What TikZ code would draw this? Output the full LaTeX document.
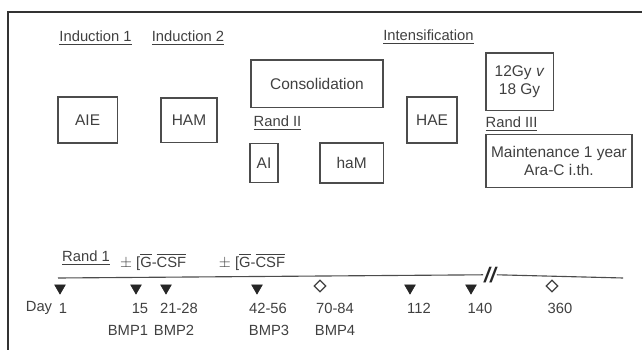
\documentclass[tikz,border=0pt]{standalone}
\usepackage{fontspec}
\setmainfont{Liberation Sans}
\usepackage{amsmath,amssymb}
\usetikzlibrary{shapes.geometric, positioning, calc}

\tikzset{
  phasebox/.style={rectangle, draw=black!70, thick, font=\fontsize{11}{12.5}\selectfont, text=black!75, align=center, inner sep=0pt},
  phaselabel/.style={font=\fontsize{10.5}{12}\selectfont, text=black!75, inner sep=1pt},
  daylabel/.style={font=\fontsize{10.5}{12}\selectfont, text=black!75, inner sep=1pt},
  tri/.style={isosceles triangle, isosceles triangle apex angle=60, shape border rotate=-90, fill=black!85, draw=black!85, minimum size=6.5pt, inner sep=0pt},
  dia/.style={diamond, draw=black!75, thick, minimum size=8.5pt, inner sep=0pt}
}

\begin{document}
\begin{tikzpicture}
      \useasboundingbox (0,0) rectangle (16.05,8.75);
      % Frame
      \draw[black!80, thick] (16.05,8.45) -- (0.2,8.45) -- (0.2,0);

      % Phase labels
      \node[phaselabel] (ind1) at (2.39,7.8) {\underline{Induction 1}};
      \node[phaselabel] (ind2) at (4.7,7.8) {\underline{Induction 2}};
      \node[phaselabel] (intens) at (10.71,7.825) {\underline{Intensification}};
      \node[phaselabel, anchor=west] (rand2) at (6.3,5.67) {\underline{Rand II}};
      \node[phaselabel, anchor=west] (rand3) at (12.1,5.65) {\underline{Rand III}};

      % Treatment boxes
      \node[phasebox, minimum width=3.3cm, minimum height=1.18cm] (consol) at (7.925,6.66) {Consolidation};
      \node[phasebox, minimum width=1.48cm, minimum height=1.15cm] (aie) at (2.19,5.75) {AIE};
      \node[phasebox, minimum width=1.4cm, minimum height=1.12cm] (ham) at (4.725,5.74) {HAM};
      \node[phasebox, minimum width=0.7cm, minimum height=0.98cm] (ai) at (6.6,4.68) {AI};
      \node[phasebox, minimum width=1.58cm, minimum height=1.0cm] (haM) at (8.79,4.675) {haM};
      \node[phasebox, minimum width=1.25cm, minimum height=1.15cm] (hae) at (10.8,5.75) {HAE};
      \node[phasebox, minimum width=1.68cm, minimum height=1.43cm] (gy) at (12.99,6.71) {12Gy \textit{v}\\18 Gy};
      \node[phasebox, minimum width=3.65cm, minimum height=1.32cm] (maint) at (13.975,4.725) {Maintenance 1 year\\Ara-C i.th.};

      % Time line
      \coordinate (tstart) at (1.45,1.8);
      \coordinate (tend) at (15.58,1.8);
      \node[font=\bfseries\itshape\fontsize{15}{15}\selectfont, text=black!85, inner sep=0.5pt] (brk) at (12.25,1.88) {//};
      \draw[black!70, thick] (tstart) -- (brk.west);
      \draw[black!70, thick] (brk.east) -- (tend);

      % Randomisation and G-CSF
      \node[phaselabel] (rand1) at (2.15,2.3) {\underline{Rand 1}};
      \node[phaselabel] (gcsf1) at (3.83,2.2) {$\pm$ [$\overline{\text{G}}$-$\overline{\text{CSF}}$};
      \node[phaselabel] (gcsf2) at (6.3,2.2) {$\pm$ [$\overline{\text{G}}$-$\overline{\text{CSF}}$};

      % Markers
      \node[tri] (m1) at (1.5,1.55) {};
      \node[tri] (m15) at (3.4,1.55) {};
      \node[tri] (m21) at (4.15,1.55) {};
      \node[tri] (m42) at (6.425,1.55) {};
      \node[dia] (m70) at (8.0,1.6) {};
      \node[tri] (m112) at (10.25,1.55) {};
      \node[tri] (m140) at (11.775,1.55) {};
      \node[dia] (m360) at (13.8,1.6) {};

      % Days
      \node[daylabel] (day) at (0.975,1.05) {Day};
      \node[daylabel] (d1) at (1.575,1.05) {1};
      \node[daylabel] (d15) at (3.5,1.05) {15};
      \node[daylabel] (d21) at (4.475,1.05) {21-28};
      \node[daylabel] (d42) at (6.7,1.05) {42-56};
      \node[daylabel] (d70) at (8.375,1.05) {70-84};
      \node[daylabel] (d112) at (10.475,1.05) {112};
      \node[daylabel] (d140) at (12.0,1.05) {140};
      \node[daylabel] (d360) at (14.0,1.05) {360};

      % Bone marrow punctures
      \node[daylabel] (bmp1) at (3.2,0.5) {BMP1};
      \node[daylabel] (bmp2) at (4.35,0.5) {BMP2};
      \node[daylabel] (bmp3) at (6.725,0.5) {BMP3};
      \node[daylabel] (bmp4) at (8.375,0.5) {BMP4};
\end{tikzpicture}
\end{document}
